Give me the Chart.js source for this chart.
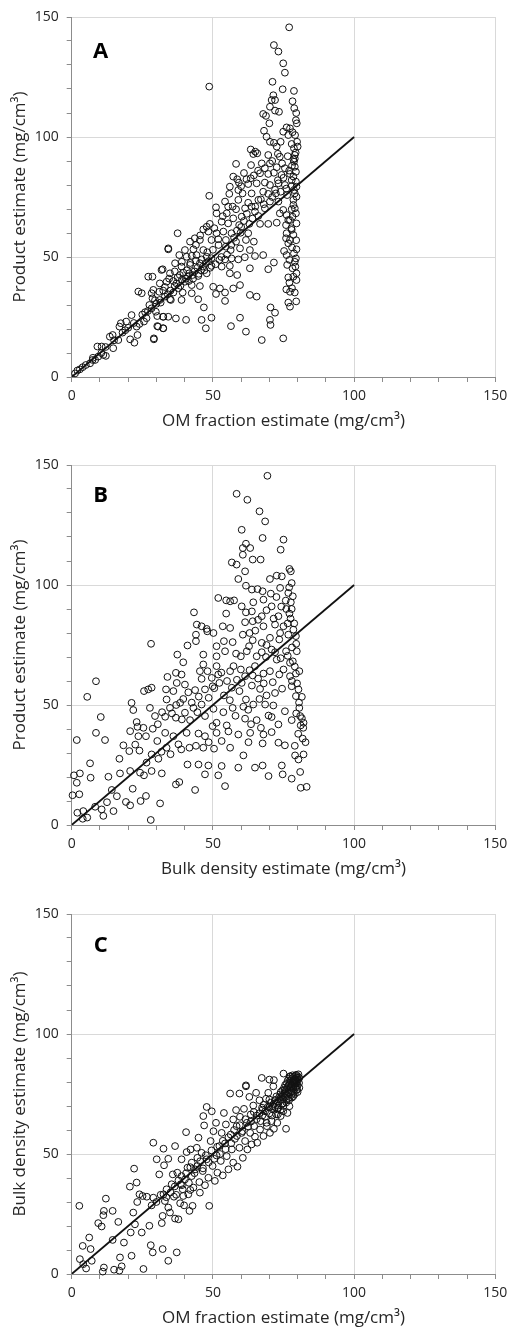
<!DOCTYPE html>
<html>
<head>
<meta charset="utf-8">
<script src="https://cdn.jsdelivr.net/npm/chart.js@4.4.1/dist/chart.umd.min.js"></script>
<style>
  body { margin: 0; background: #fff; overflow: hidden; }
  .panel { position: absolute; left: 0; width: 508px; height: 445px; }
</style>
</head>
<body>
<div class="panel" style="top:0px"><canvas id="chartA" width="508" height="445"></canvas></div>
<div class="panel" style="top:448px"><canvas id="chartB" width="508" height="445"></canvas></div>
<div class="panel" style="top:897px"><canvas id="chartC" width="508" height="445"></canvas></div>
<script>
// axis setup
const axisMin = 0;
const axisMax = 150;
const majorStep = 50;
const minorStep = 10;
const oneToOne = [0, 100];

const panelLetters = ['A', 'B', 'C'];
const xTitles = ['OM fraction estimate (mg/cm³)', 'Bulk density estimate (mg/cm³)', 'OM fraction estimate (mg/cm³)'];
const yTitles = ['Product estimate (mg/cm³)', 'Product estimate (mg/cm³)', 'Bulk density estimate (mg/cm³)'];

// A: OM fraction (x) vs product (y)
const pointsA = [
  [77,145.7],[71.6,138.3],[73.2,135.6],[74.9,130.7],[75.5,126.8],[48.7,121],[71.1,123],[74.7,119.9],[78.7,119.2],[78.2,114.9],
  [71.4,117.4],[70.8,115.4],[72,115.4],[70.2,112.6],[72,111],[73.4,110.5],[67.8,109.6],[68.8,108.8],[70,105.7],[79.4,107],
  [79.7,105.7],[76.1,104],[77.3,103.6],[74.9,102.2],[68.1,102.6],[69,100.1],[76.7,100.8],[79.1,100.8],[70.2,98],[71.6,97.6],
  [74,98],[72.6,96],[77.9,97.1],[78.7,95.3],[79.3,93.5],[63.4,94.8],[65,93.9],[65.7,93.2],[64.3,92.9],[69.6,92.5],
  [73.7,91.8],[78.5,90.7],[58.2,88.8],[63.5,88.3],[67.3,89],[70.2,89],[68.4,87],[72.6,87.4],[75.5,87],[79,87.6],
  [66.7,84.9],[69.6,84.6],[71.6,85.1],[74.3,84.2],[77.3,84.6],[78.5,83.5],[57.2,83.5],[58.6,82.4],[61.9,82.4],[63.4,82.8],
  [59.2,81],[62.5,80.4],[65.5,80.7],[68.4,81],[70.2,80],[73.2,80.7],[75.5,80],[77.9,79.6],[79.6,79.3],[56,79.3],
  [59,77.9],[60.5,76.5],[63.7,76.5],[67.8,77.2],[69.6,76.3],[72.3,76.5],[74,77.2],[76.3,75.8],[79,76.5],[48.7,75.5],
  [55.8,76.3],[54.3,73.1],[59,73.8],[62.5,72.6],[66.1,73.8],[70.2,73.1],[73.2,73.1],[78.5,73.8],[51.1,70.7],[55.4,71],
  [58.2,69.9],[61.4,70.3],[63.7,71],[64.9,68.9],[68.4,70.3],[74.9,69.6],[77.9,69.9],[79,70.3],[51.3,68.2],[54.9,68.2],
  [57.2,66.1],[60.2,66.8],[66.1,67.1],[73.7,68.2],[76.1,67.5],[77.3,65.4],[79.6,64],[48.9,63.8],[53.1,64.7],[55.4,64],
  [59.3,63.3],[62.9,63.8],[66.7,63.8],[69.6,63.8],[72.6,64.3],[75.9,63.3],[77.9,61.3],[46.6,61.5],[47.8,62.6],[48.4,60.6],
  [51.3,59.9],[53.7,60.6],[56.6,59.9],[59.8,60.1],[62.5,59.9],[43.6,57.8],[45.4,57.1],[41.9,56.4],[37.5,59.9],[49.5,57.1],
  [51.9,57.4],[54.6,57.1],[58.2,56.4],[61.7,57.1],[64.5,56.4],[75.9,57.8],[76.7,55.7],[79.6,53.2],[34.2,53.2],[40.1,52.9],
  [43.1,53.2],[46.6,52.9],[54.6,54.3],[56.3,52.9],[59.6,53.6],[63.1,52.9],[38.1,50.8],[40.7,50.1],[44.2,50.8],[47.8,50.1],
  [52.3,48.8],[54.3,49],[56.6,49.4],[59,49],[61.3,49.9],[64.9,50.4],[67.8,50.8],[76.1,50.8],[79.4,49.4],[79,48],
  [36.6,47.4],[38.9,46],[41.9,46.7],[45.4,47.4],[49.5,46.3],[53.1,46],[56,46.3],[63.1,45.3],[71.6,47.7],[69.6,44.9],
  [76.3,46.7],[32.2,44.9],[34.8,43.2],[38.3,42.5],[41.6,43.2],[44.8,42.1],[47.8,43.2],[56,43.2],[58.6,42.5],[76.7,41.5],
  [78.5,41.8],[79.6,40.4],[28.6,41.8],[31.2,39],[33.6,39.7],[37.1,39],[40.1,39.7],[42.5,38.3],[45.4,37.9],[50.1,37.6],
  [52.5,36.9],[57.2,36.9],[59.6,38.3],[28.9,36.3],[32.4,36],[36,35.2],[39.3,35.2],[42.5,34.9],[54.3,35.2],[51.1,34.6],
  [77.3,35.5],[79,35.2],[63.1,34.2],[65.5,33.5],[28.6,32.8],[31.2,32.1],[34.8,32.4],[38.9,32.1],[44.8,32.4],[54.3,31.7],
  [76.7,31],[28.3,28.6],[46.8,29],[70.4,29],[77.3,29.3],[72,26.8],[30.3,25.4],[32.4,25.1],[34.2,25.1],[36.9,24.4],
  [40.5,23.8],[46,23.8],[49.5,24.7],[59.6,24.7],[70.2,23.8],[70.4,21.7],[30.3,21.2],[32.4,20.3],[47.5,20.3],[56.4,21.2],
  [61.7,18.9],[29.1,15.7],[67.3,15.4],[74.9,16.1],
  [79,92.5],[78.7,89.7],[79.4,85.5],[77.9,82],[79.4,81.4],[78.7,77.9],[79.6,75.1],[78.5,71.7],[79.4,68.2],[78.2,66.8],
  [76.7,65.4],[78.5,59.2],[76.1,59.9],[77.3,57.1],[78.7,51.5],[77.1,48.8],[78.2,45.3],[79.6,43.2],[77.1,39.3],
  [1.2,1.5],[2,2.7],[2.9,3.2],[3.9,4.1],[5,5],[6.5,5.7],[7.4,7.1],[8.3,7.1],[9.4,8.5],[9.1,12.7],
  [10.6,12.7],[11.2,9.2],[12.1,8.8],[13.5,16.8],[14.7,12],[14.5,17.5],[16.5,15.4],[16.9,21],[17.4,22.4],[19.3,23.1],
  [20.7,15.7],[21.2,25.8],[22.2,14.3],[23,21],[23.3,17.5],[24,22.1],[23.6,35.6],[24.8,34.9],[25.6,23.1],[26.5,24.5],
  [27.1,41.8],[28.3,34.9],[29.1,16.1],[29.8,27.2],[30.6,21],[31.8,44.6],[32.4,25.1],[32.4,20.3],[34.2,53.6],[35.1,32.1],
  [35,36],[36.5,38],[37.8,37],[39,40.5],[40.5,41],[41.5,40],[42.8,42.5],[43.5,44],[44.5,45.5],[45.8,44.5],
  [46.5,46],[47.5,47.5],[48.5,48.2],[49.5,49.5],[33,33.5],[34,34.5],[30,30.5],[31.5,31],[26,27],[27,27.5],
  [25,26],[19,19.5],[18,18.5],[20,20.5],[22,22.5],[15,15.3],[12,12.5],[10.5,10],[7.5,8],
  [36,40],[37.5,41.5],[38.5,38],[39.5,43.5],[40.8,44.5],[41.2,42],[42,47.5],[43,41],[44,48.5],[45,43],
  [46,49],[47,44.5],[48,52],[49,45.5],[50,53],[51,47],[52,55],[53,50],[55,51],[56.5,55],
  [57.5,58],[58.5,61],[60,62.5],[61,65],[62,68],[64,66],[65,71],[67,74],[68,72],[71,75],
  [72,78],[73,82],[75,83],[76,78.5],[77,86],[78,88],[79,91],[80,96],[79.8,98],[78.2,102],
  [79.5,110],[78.8,112],[76.5,92],[74.5,89],[73,93],[71,90],[66,86],[64.5,84],[61,85],[60,79.5],
  [57,71],[53.5,67],[50.5,62],[45.5,59],[44,55],[42.5,50.5],[39,48],[36.5,44],[34.5,41],[33,37.5],
  [31,35.5],[29.5,32],[27.5,30],[78,54],[79.5,57],[77.8,62],[79.2,46],[78,37],[79.5,31.5],[76,36.5],
  [75.2,52.5]
];

// B: bulk density (x) vs product (y)
const pointsB = [
  [69.3,145.5],[58.4,138],[62.2,135.5],[66.5,130.7],[68.5,126.5],[60.2,123],[67.6,119.6],[75,118.9],[74,114.7],[61.7,117.2],
  [60.6,115.4],[63.2,115.4],[60.6,112.6],[64.1,110.6],[66.9,110.6],[56.7,109.4],[58.4,108.5],[61.4,105.7],[59,102.5],[70.2,102.5],
  [72.6,103.9],[74.4,103.6],[77.1,106.7],[77.6,105.7],[77.9,100.8],[61.7,99.7],[63.8,98.1],[65.8,98.3],[67.6,97.4],[70.5,96.4],
  [73.8,98.8],[76.7,96.7],[78.3,95.3],[51.9,94.6],[54.7,93.6],[56.1,93.2],[57.5,93.6],[64.3,92.8],[60.2,91.1],[67.9,93.9],
  [70.8,91.1],[77.6,92.8],[77.9,90],[43.3,88.6],[54.7,88.1],[61.7,88.6],[63.8,89],[67.3,87],[73.2,87],[77.1,88.1],
  [44.3,83.5],[46,82.8],[47.8,81.7],[50.2,80],[53.5,82.8],[56.1,82.1],[61.4,84.5],[64.1,84.9],[67.9,82.8],[72,83.5],
  [75,82.8],[78.5,81.4],[44,79.3],[48,80.7],[51.3,74.5],[53.9,76.6],[57,76.2],[60.6,79.3],[64.1,77],[67.3,75.9],
  [70.2,78],[73.5,77.3],[76.7,79.3],[79.4,78.7],[28.1,75.5],[41,74.8],[44,76.6],[54.3,72.4],[58.2,71.4],[62,72.4],
  [67.3,72],[70.8,73.1],[75.9,72.4],[79.7,72.4],[37.4,71],[46.6,71],[51.3,70.3],[59.9,70.3],[65.5,70.3],[68.8,70],
  [72.6,68.9],[78.3,68.2],[39.5,67.8],[46.6,66.9],[51.3,66.2],[57.3,66.2],[59.9,64.8],[64.9,66.2],[70.2,64.1],[75,64.8],
  [77.3,67.6],[80.6,64.1],[33.9,61.7],[36.9,63.4],[38.9,62.7],[45.4,64.1],[48.1,64.1],[51.9,62.7],[56.1,64.1],[61.4,62],
  [64.1,62.3],[67.9,63.1],[73.5,62.7],[77.3,62],[79.4,63.1],[37.2,59.2],[40.1,58.5],[46,60.9],[49.6,61.3],[52.3,59.2],
  [56.7,57.2],[60.2,59.2],[63.8,58.1],[66.7,56.7],[77.9,57.8],[80.3,56.5],[25.6,55.8],[27.1,56.5],[28.3,57.2],[33.4,56.5],
  [36,55.8],[41.3,55.3],[43.7,56.2],[47.2,56.5],[49.9,57.8],[53.9,54],[59.4,55.8],[61.7,52.3],[79.4,53.7],[81.5,53.4],
  [8.6,59.9],[5.5,53.4],[21.2,50.9],[27.7,48.8],[33.6,52.3],[34.8,48.8],[38.4,50.9],[40.1,46.8],[43.1,48.8],[46,50.2],
  [50.2,48.4],[53.7,47],[57,48.8],[60.8,49.3],[64.3,50.2],[68.5,50.2],[71.4,49.8],[75.5,47.4],[80.6,48.8],[82.1,42.6],
  [21.8,47.9],[23,42.9],[29.5,45.4],[33.1,45.1],[36.9,44.7],[41.9,43.7],[47.2,45.4],[51.3,42.6],[54.9,41.5],[61.4,44.3],
  [65.5,43.7],[69.7,45.6],[73.2,41.9],[77.9,43.7],[81.1,41.5],[10.3,45],[23.3,40.9],[25.4,40.5],[28.7,40.1],[33.1,38.4],
  [36,37],[40.7,38.4],[44.9,38.1],[47.2,37],[49.9,41.2],[51.3,38.4],[59,37.7],[63.2,38.4],[67.9,37.7],[70.8,38.7],
  [82,40.5],[80.9,45.4],[8.6,38.4],[11.8,35.4],[1.8,35.4],[20.7,39.1],[23.6,37],[26.3,37],[30.3,35],[33.6,32.2],
  [37.8,33.6],[41.7,32.2],[46.6,32.2],[50.4,31.8],[53.1,35],[56.1,32.2],[62.6,34.5],[67.6,34],[73.2,34.3],[75.5,33.2],
  [18.3,33.2],[20.4,30.8],[28.3,29.4],[16.9,27.6],[30.7,27.6],[41,25.2],[44.9,25.2],[48.4,24.8],[53.1,24.6],[59,23.9],
  [60.8,29],[64.9,23.9],[67.6,24.8],[74.4,24.8],[79.1,29],[80.3,27.3],[82.1,29.4],[6.5,25.7],[0.8,20.7],[2.9,21.5],
  [1.8,17.6],[6.7,19.7],[13,20.1],[17.1,21.5],[20.7,22.5],[24.2,21.8],[25.6,20.7],[28.3,22.5],[31.9,21.5],[47.2,21.1],
  [51.9,20.7],[69.7,20.4],[74.7,21.1],[77.9,19.3],[80.9,22.1],[81.1,15.5],[83.2,15.9],[0.3,12.4],[2.7,12.8],[14.2,14.6],
  [21.6,15.1],[36.9,16.9],[38.1,17.9],[43.7,14.6],[54.3,16.2],[26.3,12.1],[24.4,10],[19.2,9.6],[20.7,8.2],[31.3,9],
  [2,5.1],[4.1,5.8],[5.5,3.1],[8.3,7.6],[10.6,6.5],[11.2,3.8],[14.8,5.8],[28,2.1],[3.9,2.6],
  [76,90],[77.5,86],[78.8,84],[79.5,75.5],[78,74],[76.5,70.5],[79,66],[78,60],[79.8,59],[80.5,51],
  [79.5,46.5],[81.5,44.5],[80.2,38],[81.8,36],[82.8,34.5],[79,33],[77,99],[75.8,93.5],[74.2,91],[72.5,95],
  [71.5,86],[69,89.5],[66,85.5],[65,81],[63,80],[62.8,74.5],[69,75],[72,72],[74,69.5],[73.8,80],
  [76.5,84],[71.2,59.5],[68,59],[66,61],[63,64.5],[58.5,60.5],[55,60],[53,63.5],[50.5,57],[48.5,53],
  [45,53.5],[42.5,51],[39.5,52.5],[37,50],[35.5,46.5],[32,47],[30.5,42],[39,44],[44.5,47],[56,52],
  [58,45.5],[62.5,48],[66.5,52.5],[69,54],[72,55],[74.5,56.8],[70.8,45],[67,40.5],[63.5,42],[55.5,39],
  [48.5,34.5],[44,33],[38.8,31.5],[35,29.5],[31.8,30.5],[26.5,26],[24,31],[22.5,33.5],[12.5,9.5],[16,12]
];

// C: OM fraction (x) vs bulk density (y)
const pointsC = [
  [2.7,28.4],[2.9,6.2],[3.9,11.7],[5.1,2.3],[4.1,4.1],[6.2,15.2],[6.7,10.4],[7.1,5.5],[9.4,21.2],[10.6,19.8],
  [11,1],[11.4,2.7],[11.2,24.5],[11.4,26.3],[12.1,31.4],[14.5,26.3],[14.5,14.2],[15,1.8],[16.5,21.7],[16.9,1.4],
  [17.1,6.9],[17.7,3.2],[18.5,13.1],[20.6,36.4],[20.9,17.3],[21.2,7.6],[21.8,25.6],[22.1,43.9],[22.4,20.7],[23,38.1],
  [23.2,30],[24,33.2],[24.8,17.3],[25.1,32.5],[25.4,2.1],[26.6,32.2],[27.5,20.1],[28,12],[28.3,28.6],[28.7,9],
  [28.9,54.7],[28.9,31.8],[30.1,47.8],[31,41.5],[31.9,21.2],[32.2,24.2],[32.2,10.4],[32.5,52.2],[32.7,45.3],[32.5,33.2],
  [33,30.4],[33.6,35.3],[34.2,48],[34.2,27.7],[34.2,5.5],[34.8,25.6],[35.4,37.4],[35.8,41.5],[36.2,32.2],[36.6,53.3],
  [36.6,23.1],[37.2,9],[37.4,42.2],[37.8,22.8],[38.4,29.5],[38.6,37.4],[38.9,47.8],[38.9,40.8],[39.3,35.3],[39.8,28.6],
  [40.1,39.4],[40.5,59.1],[40.7,50.8],[41,44.3],[41.3,33.2],[41.7,26.3],[42.1,51.9],[42.5,46.4],[42.5,40.8],[42.8,28.4],
  [43.1,36],[43.7,43.6],[44.3,52.6],[44.5,48.4],[44.9,56.8],[45.2,38.3],[45.4,33.9],[46,50.5],[46.4,42.9],[46.6,65.8],
  [46.9,61.9],[47.2,37],[47.8,69.6],[47.8,47.8],[48.4,40.1],[48.7,28.4],[49.2,55.4],[49.6,67.8],[49.9,45],[50.2,59.5],
  [50.7,38.8],[51.1,63],[51.3,49.4],[51.6,42.2],[52.3,53.3],[52.8,47.1],[53.1,58.8],[53.5,41.1],[53.9,67.1],[54.3,54.4],
  [54.6,62.3],[54.9,49.1],[55.5,43.6],[56.1,75.2],[56.3,58.1],[56.7,51.9],[57.2,64.4],[57.2,46.4],[57.8,56.3],[58.2,68.3],
  [58.4,61.6],[58.7,44.7],[59.4,75.2],[59.4,52.6],[59.6,65.5],[60.2,58.8],[60.6,48.4],[61,68.8],[61.4,55.4],[61.7,78.2],
  [62,63],[62.2,51.9],[62.9,73.8],[63.2,58.8],[63.4,66.5],[63.7,54],[64.3,70.2],[64.6,61.6],[64.9,57.2],[65.3,75.5],
  [65.5,66],[65.7,54.7],[66.5,72.4],[66.7,60.2],[66.9,63.7],[67.6,68.5],[67.9,57.5],[68.5,65.5],[68.8,73],[69.1,61.6],
  [69.6,75.5],[70,66.9],[70.2,58.8],[70.8,63.7],[71.2,69.9],[71.4,78.2],[71.6,60.5],[72,72.4],[72.4,66.5],[72.8,63],
  [73.2,69.2],[73.8,74.8],[74,65.8],[74.7,71],[74.9,67.8],[75.5,76.8],[75.9,60.5],[76.1,72.7],[76.4,67.1],[77.1,69.9],
  [77.3,75.5],[77.9,78.2],[78.5,74.1],[79.1,79.6],[79.7,76.8],
  [72,72.5],[72.5,74],[73,71.8],[73.4,73.5],[73.8,72.6],[74,75.8],[74.3,73.9],[74.6,76.5],[74.8,74.5],[75,72.8],
  [75.2,77.6],[75.4,75.4],[75.6,78.8],[75.8,76.2],[76,74.6],[76.2,79.5],[76.3,77.4],[76.5,80.6],[76.6,75.5],[76.8,78.5],
  [77,81.5],[77,76.6],[77.2,79.6],[77.4,82.3],[77.5,77.8],[77.6,80.4],[77.8,78.9],[78,81.6],[78,76.2],[78.2,82.8],
  [78.3,79.8],[78.4,77.5],[78.6,80.9],[78.7,82.1],[78.8,78.6],[79,79.9],[79,81.3],[79.2,82.6],[79.3,77.9],[79.4,80.5],
  [79.5,83],[79.6,79.2],[79.7,81.8],[79.8,80.2],[80,82.4],[80,78.5],[80.2,81],[80.3,83.2],[80.5,79.6],[80.6,81.7],
  [74.5,71],[73.2,70.2],[71.5,70.8],[72.8,68.6],[75.5,73.6],[76.8,73.2],[70.5,71.4],[71,68.8],[69.5,69.7],[68.5,67.8],
  [70,72.7],[67.4,69.3],[78.5,75.6],[77.8,74.6],[79.8,76.8],[80.6,77.6],
  [61.7,78.6],[67.3,81.7],[70,81],[71.6,80.8],[75,83.5],[77.3,82.4],
  [30,30],[31.5,33],[33.5,32],[35,34],[36.5,36.5],[37.8,39],[39,37],[40.5,42],[41.5,38],[42,44.5],
  [43.5,42],[44.5,45],[45.5,47],[46.5,44],[47.5,49.5],[48.5,46.5],[49.5,51.5],[50.5,48],[51.5,53],[52.5,50],
  [53.5,55.5],[54.5,52],[55.5,57],[56.5,54.5],[57.5,60],[58.5,57.5],[59.5,62],[60.5,59.5],[61.5,64.5],[62.5,61.5],
  [63.5,63.5],[64.5,67.5],[65.5,64.5],[66.5,67],[67.5,66],[68,70.5],[69,63],[70,69.5],[71,66],[72,69.5],
  [73,66.5],[74,68.5],[75,70],[76,71.5],[77,72.5],[78,73.5],[79,75],[80,75.8],[37,33],[39.5,32.5],
  [42,35]
];

const fontFamily = '"Open Sans", "DejaVu Sans", sans-serif';
const textColor = '#262626';

const letterPlugin = {
  id: 'panelLetter',
  afterDraw(chart, args, opts) {
    const ctx = chart.ctx;
    const area = chart.chartArea;
    ctx.save();
    ctx.font = 'bold 22px ' + fontFamily;
    ctx.fillStyle = '#000';
    ctx.textAlign = 'center';
    ctx.textBaseline = 'middle';
    ctx.fillText(opts.text, area.left + 29, area.top + opts.dy);
    ctx.restore();
  }
};

function axisOptions(title, isX) {
  return {
    type: 'linear',
    min: axisMin,
    max: axisMax,
    afterFit: (s) => {
      if (isX) { s.height = 54; } else { s.width = 71.7; }
      s.paddingLeft = 0; s.paddingRight = 0; s.paddingTop = 0; s.paddingBottom = 0;
    },
    ticks: {
      stepSize: minorStep,
      autoSkip: false,
      maxRotation: 0,
      padding: isX ? 6 : 8,
      color: textColor,
      font: { family: fontFamily, size: 14 },
      callback: (v) => (v % majorStep === 0 ? v : '')
    },
    grid: {
      color: (c) => (c.tick && c.tick.value % majorStep === 0 ? '#d9d9d9' : 'rgba(0,0,0,0)'),
      lineWidth: 1,
      drawTicks: true,
      tickLength: 5,
      tickColor: '#8c8c8c',
      tickWidth: 1
    },
    border: { color: '#8c8c8c', width: 1 },
    title: {
      display: true,
      text: title,
      color: textColor,
      font: { family: fontFamily, size: 17 },
      padding: isX ? { top: 0, bottom: 0 } : { top: 10, bottom: 0 }
    }
  };
}

function makeChart(id, i, pts, dy) {
  new Chart(document.getElementById(id), {
    type: 'scatter',
    data: {
      datasets: [
        {
          data: oneToOne.map(v => ({ x: v, y: v })),
          showLine: true,
          borderColor: '#111',
          borderWidth: 1.8,
          pointRadius: 0,
          fill: false
        },
        {
          data: pts.map(p => ({ x: p[0], y: p[1] })),
          pointRadius: 3.4,
          pointBorderWidth: 1,
          pointBorderColor: '#111',
          pointBackgroundColor: 'rgba(0,0,0,0)',
          clip: false
        }
      ]
    },
    options: {
      responsive: false,
      animation: false,
      layout: { padding: { top: 17, right: 12.7, bottom: 14, left: 0 } },
      plugins: {
        legend: { display: false },
        tooltip: { enabled: false },
        panelLetter: { text: panelLetters[i], dy: dy }
      },
      scales: {
        x: axisOptions(xTitles[i], true),
        y: axisOptions(yTitles[i], false)
      }
    },
    plugins: [letterPlugin]
  });
}

makeChart('chartA', 0, pointsA, 35);
makeChart('chartB', 1, pointsB, 30.5);
makeChart('chartC', 2, pointsC, 31.5);
</script>
</body>
</html>
